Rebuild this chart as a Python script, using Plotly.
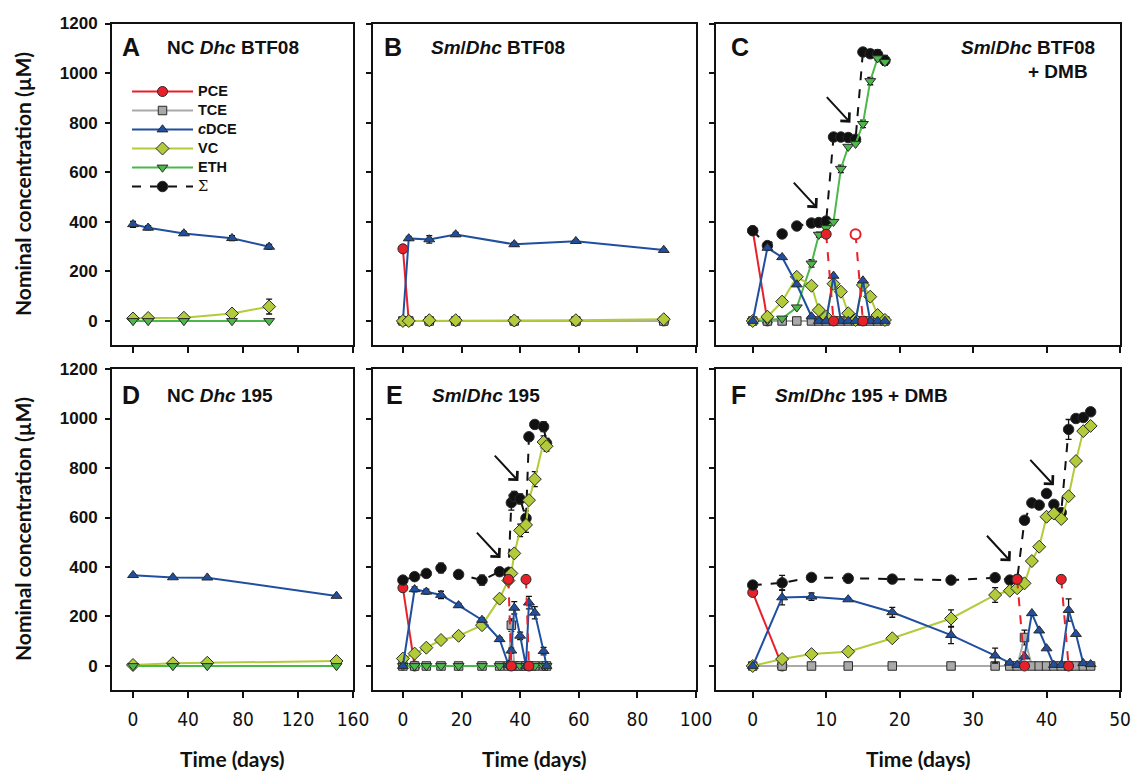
import plotly.graph_objects as go

W, H = 1132, 773

# ---------------- data ----------------
# Panel A : NC Dhc BTF08
A_days = [0, 11, 37, 72, 99]
A_cDCE = [390, 376, 353, 334, 299]
A_cDCE_err = [12, 8, 8, 10, 10]
A_VC = [10, 12, 13, 30, 58]
A_VC_err = [0, 0, 0, 0, 30]
A_ETH = [0, 0, 0, 0, 0]

# Panel B : Sm/Dhc BTF08
B_days = [0, 2, 9, 18, 38, 59, 89]
B_PCE = [291, 0, 0, 0, 0, 0, 0]
B_TCE = [0, 0, 0, 0, 0, 0, 0]
B_cDCE = [0, 333, 329, 349, 309, 322, 286]
B_cDCE_err = [0, 8, 15, 8, 8, 6, 6]
B_VC = [0, 0, 3, 3, 2, 3, 7]

# Panel C : Sm/Dhc BTF08 + DMB
C_days = [0, 2, 4, 6, 8, 9, 10, 11, 12, 13, 14, 15, 16, 17, 18]
C_sum = [364, 304, 351, 383, 395, 397, 403, 742, 742, 740, 733, 1085, 1078, 1075, 1051]
C_sum_err = [0, 0, 0, 0, 0, 0, 0, 5, 5, 5, 10, 15, 15, 20, 20]
C_TCE = [0, 0, 0, 0, 0, 0, 0, 0, 0, 0, 0, 0, 0, 0, 0]
C_cDCE = [0, 295, 257, 147, 18, 0, 0, 182, 0, 0, 0, 163, 0, 0, 0]
C_VC = [0, 17, 78, 178, 142, 44, 17, 150, 118, 31, 4, 145, 98, 24, 4]
C_ETH = [0, 3, 10, 55, 232, 348, 375, 400, 614, 703, 715, 795, 968, 1060, 1045]
C_ETH_err = [0, 0, 0, 0, 15, 10, 0, 0, 15, 0, 0, 15, 15, 10, 10]
C_PCE_days = [0, 2]
C_PCE = [365, 0]
C_pulse1_days = [10, 11]
C_pulse1 = [350, 0]
C_pulse2_days = [14, 15]
C_pulse2 = [350, 0]

# Panel D : NC Dhc 195
D_days = [0, 29, 54, 148]
D_cDCE = [367, 358, 357, 283]
D_VC = [4, 11, 13, 20]
D_ETH = [0, 0, 0, 0]

# Panel E : Sm/Dhc 195
E_days = [0, 4, 8, 13, 19, 27, 33, 36, 37, 38, 40, 42, 43, 45, 48, 49]
E_sum = [347, 361, 374, 396, 370, 347, 381, 378, 660, 685, 675, 597, 926, 976, 967, 900]
E_sum_err = [10, 10, 10, 20, 8, 20, 10, 10, 30, 20, 20, 30, 0, 15, 20, 20]
E_TCE = [0, 0, 0, 0, 0, 0, 0, 0, 165, 0, 0, 0, 0, 0, 0, 0]
E_TCE_err = [0, 0, 0, 0, 0, 0, 0, 0, 25, 0, 0, 0, 0, 0, 0, 0]
E_ETH = [0, 0, 0, 0, 0, 0, 0, 0, 0, 0, 0, 0, 0, 0, 0, 0]
E_VC = [30, 50, 74, 105, 122, 165, 272, 345, 374, 455, 548, 570, 670, 755, 905, 888]
E_VC_err = [0, 0, 0, 0, 0, 0, 0, 0, 0, 0, 25, 30, 0, 30, 25, 20]
E_cDCE = [0, 310, 300, 287, 245, 186, 108, 5, 62, 235, 122, 0, 256, 215, 60, 0]
E_cDCE_err = [0, 10, 10, 15, 8, 8, 8, 0, 10, 25, 15, 0, 25, 25, 15, 0]
E_PCE_days = [0, 4]
E_PCE = [316, 0]
E_pulse1_days = [36, 37]
E_pulse1 = [350, 0]
E_pulse2_days = [42, 43]
E_pulse2 = [350, 0]

# Panel F : Sm/Dhc 195 + DMB
F_days = [0, 4, 8, 13, 19, 27, 33, 35, 36, 37, 38, 39, 40, 41, 42, 43, 44, 45, 46]
F_sum = [327, 336, 358, 354, 351, 347, 357, 347, 350, 589, 659, 650, 697, 653, 620, 956, 1000, 1004, 1027]
F_sum_err = [15, 30, 8, 8, 8, 8, 10, 5, 5, 10, 10, 10, 10, 10, 10, 40, 10, 10, 10]
F_TCE = [0, 0, 0, 0, 0, 0, 0, 0, 0, 115, 0, 0, 0, 0, 0, 0, 0, 0, 0]
F_TCE_err = [0, 0, 0, 0, 0, 0, 0, 0, 0, 30, 0, 0, 0, 0, 0, 0, 0, 0, 0]
F_VC = [0, 28, 48, 58, 112, 192, 287, 304, 314, 334, 424, 482, 603, 616, 594, 686, 828, 949, 970]
F_VC_err = [0, 0, 0, 0, 0, 35, 30, 0, 0, 0, 0, 0, 0, 15, 0, 0, 0, 0, 0]
F_cDCE = [0, 277, 280, 269, 217, 125, 42, 13, 4, 38, 213, 143, 71, 4, 4, 226, 129, 11, 7]
F_cDCE_err = [0, 30, 15, 5, 20, 35, 30, 0, 0, 0, 0, 0, 0, 0, 0, 45, 0, 0, 0]
F_PCE_days = [0, 4]
F_PCE = [297, 0]
F_pulse1_days = [36, 37]
F_pulse1 = [350, 0]
F_pulse2_days = [42, 43]
F_pulse2 = [350, 0]

# arrows (head position in data units) for amendments
C_arrows = [(8.8, 455), (13.3, 800)]
E_arrows = [(33.3, 436), (39.4, 747)]
F_arrows = [(35.1, 423), (41.0, 730)]

# ---------------- styles ----------------
COL = {
    "PCE": "#e8202a", "TCE": "#a9a9a9", "cDCE": "#1f4f9e",
    "VC": "#b2cb3a", "ETH": "#4cb84a", "SUM": "#111111",
}
SYM = {"PCE": "circle", "TCE": "square", "cDCE": "triangle-up",
       "VC": "diamond", "ETH": "triangle-down", "SUM": "circle"}
MSIZE = {"PCE": 10, "TCE": 8.5, "cDCE": 9.5, "VC": 10, "ETH": 9.5, "SUM": 10.5}
LEG = "<span style='font-size:14.5px'>%s</span>"
NAMES = {"PCE": LEG % "PCE", "TCE": LEG % "TCE", "cDCE": LEG % "<i>c</i>DCE",
         "VC": LEG % "VC", "ETH": LEG % "ETH",
         "SUM": "<span style='font-size:14.5px;font-weight:normal;font-family:DejaVu Serif'>Σ</span>"}
RANK = {"PCE": 1, "TCE": 2, "cDCE": 3, "VC": 4, "ETH": 5, "SUM": 6}

fig = go.Figure()


def add(sp, key, x, y, err=None, dash="solid", legend=False, hollow=None):
    ax = "" if sp == 1 else str(sp)
    mcol = COL[key]
    marker = dict(symbol=SYM[key], size=MSIZE[key], color=mcol,
                  line=dict(color="#2a2a2a", width=1))
    if hollow is not None:
        marker["color"] = ["white" if h else mcol for h in hollow]
        marker["line"] = dict(color=[mcol if h else "#2a2a2a" for h in hollow],
                              width=[2 if h else 1 for h in hollow])
    tr = go.Scatter(
        x=x, y=y, mode="lines+markers", xaxis="x" + ax, yaxis="y" + ax,
        line=dict(color=mcol, width=2, dash=dash), marker=marker,
        name=NAMES[key], showlegend=legend, legendrank=RANK[key], cliponaxis=False,
    )
    if err is not None:
        tr.error_y = dict(type="data", array=err, visible=True, color="#111111",
                          thickness=1.3, width=3)
    fig.add_trace(tr)


# Panel A (legend carriers)
add(1, "VC", A_days, A_VC, A_VC_err, legend=True)
add(1, "ETH", A_days, A_ETH, legend=True)
add(1, "cDCE", A_days, A_cDCE, A_cDCE_err, legend=True)

# Panel B
add(2, "PCE", B_days, B_PCE, legend=True)
add(2, "TCE", B_days, B_TCE, legend=True)
add(2, "cDCE", B_days, B_cDCE, B_cDCE_err)
add(2, "VC", B_days, B_VC)

# Panel C
add(3, "PCE", C_PCE_days, C_PCE)
add(3, "SUM", C_days, C_sum, C_sum_err, dash="dash", legend=True)
add(3, "TCE", C_days, C_TCE)
add(3, "ETH", C_days, C_ETH, C_ETH_err)
add(3, "VC", C_days, C_VC)
add(3, "cDCE", C_days, C_cDCE)
add(3, "PCE", C_pulse1_days, C_pulse1, dash="dash")
add(3, "PCE", C_pulse2_days, C_pulse2, dash="dash", hollow=[True, False])

# Panel D
add(4, "VC", D_days, D_VC)
add(4, "ETH", D_days, D_ETH)
add(4, "cDCE", D_days, D_cDCE)

# Panel E
add(5, "PCE", E_PCE_days, E_PCE)
add(5, "SUM", E_days, E_sum, E_sum_err, dash="dash")
add(5, "TCE", E_days, E_TCE, E_TCE_err)
add(5, "ETH", E_days, E_ETH)
add(5, "VC", E_days, E_VC, E_VC_err)
add(5, "cDCE", E_days, E_cDCE, E_cDCE_err)
add(5, "PCE", E_pulse1_days, E_pulse1, dash="dash")
add(5, "PCE", E_pulse2_days, E_pulse2, dash="dash")

# Panel F
add(6, "PCE", F_PCE_days, F_PCE)
add(6, "SUM", F_days, F_sum, F_sum_err, dash="dash")
add(6, "TCE", F_days, F_TCE, F_TCE_err)
add(6, "VC", F_days, F_VC, F_VC_err)
add(6, "cDCE", F_days, F_cDCE, F_cDCE_err)
add(6, "PCE", F_pulse1_days, F_pulse1, dash="dash")
add(6, "PCE", F_pulse2_days, F_pulse2, dash="dash")

# ---------------- axes ----------------
def px_x(a, b):
    return [a / W, b / W]


def px_y(top, bottom):
    return [1 - bottom / H, 1 - top / H]


cols = [px_x(112, 353), px_x(373, 696), px_x(716, 1120)]
rows = [px_y(23.5, 345), px_y(369, 690)]
xranges = [[-15.3, 160], [-10.2, 100], [-5.0, 50]]
xdticks = [40, 20, 10]

tick_font = dict(family="Liberation Sans Narrow, DejaVu Sans Condensed, Lato, sans-serif", size=19, color="#111")
ytick_font = dict(family="Liberation Sans, Arial, sans-serif", size=17, color="#111", weight="bold")

for i in range(6):
    r, c = divmod(i, 3)
    sfx = "" if i == 0 else str(i + 1)
    fig.layout["xaxis" + sfx] = dict(
        domain=cols[c], range=xranges[c], dtick=xdticks[c], tick0=0,
        anchor="y" + sfx, showline=True, linecolor="#111", linewidth=2, mirror=True,
        ticks="outside", ticklen=6, tickwidth=1.5, tickcolor="#111",
        showgrid=False, zeroline=False, showticklabels=(r == 1), automargin=False,
        tickfont=tick_font, ticklabelstandoff=5, fixedrange=True,
    )
    fig.layout["yaxis" + sfx] = dict(
        domain=rows[r], range=[-97, 1200], tickvals=[0, 200, 400, 600, 800, 1000, 1200],
        anchor="x" + sfx, showline=True, linecolor="#111", linewidth=2, mirror=True,
        ticks="outside", ticklen=5, tickwidth=1.5, tickcolor="#111",
        showgrid=False, zeroline=False, showticklabels=(c == 0), automargin=False,
        tickfont=ytick_font, ticklabelstandoff=4, fixedrange=True,
    )

# ---------------- annotations ----------------
ann = []
letter_font = dict(family="Liberation Sans, Arial, sans-serif", size=25, color="#111", weight="bold")
title_font = dict(family="Liberation Sans, Arial, sans-serif", size=19, color="#111", weight="bold")
axis_title_font = dict(family="Lato, sans-serif", size=21, color="#111", weight="bold")


def pa(x, y, text, font, xanchor="center", yanchor="middle", angle=0):
    ann.append(dict(x=x / W, y=1 - y / H, xref="paper", yref="paper", text=text,
                    showarrow=False, font=font, xanchor=xanchor, yanchor=yanchor,
                    textangle=angle))


for L, x, y in [("A", 131, 47), ("B", 393, 47), ("C", 740, 47),
                ("D", 131, 395), ("E", 394, 395), ("F", 738, 395)]:
    pa(x, y, L, letter_font)

pa(165, 47, "NC <i>Dhc</i> BTF08", title_font, xanchor="left")
pa(429, 47, "<i>Sm</i>/<i>Dhc</i> BTF08", title_font, xanchor="left")
pa(1097, 47, "<i>Sm</i>/<i>Dhc</i> BTF08", title_font, xanchor="right")
pa(1090, 71, "+ DMB", title_font, xanchor="right")
pa(165, 395, "NC <i>Dhc</i> 195", title_font, xanchor="left")
pa(430, 395, "<i>Sm</i>/<i>Dhc</i> 195", title_font, xanchor="left")
pa(773, 395, "<i>Sm</i>/<i>Dhc</i> 195 + DMB", title_font, xanchor="left")

for yc in (184, 529):
    pa(22, yc, "Nominal concentration (µM)", axis_title_font, angle=-90)
for xc in (232, 534, 918):
    pa(xc, 758, "Time (days)", axis_title_font)

for sp, arrows in ((3, C_arrows), (5, E_arrows), (6, F_arrows)):
    for (hx, hy) in arrows:
        ann.append(dict(x=hx, y=hy, xref="x%d" % sp, yref="y%d" % sp, ax=-25, ay=-27,
                        axref="pixel", ayref="pixel", showarrow=True, arrowhead=4,
                        arrowsize=1.2, arrowwidth=2, arrowcolor="#111", text=""))

fig.update_layout(
    width=W, height=H, margin=dict(l=0, r=0, t=0, b=0, pad=0, autoexpand=False),
    paper_bgcolor="white", plot_bgcolor="white",
    annotations=ann,
    legend=dict(x=127 / W, y=1 - 77 / H, xanchor="left", yanchor="top",
                bgcolor="rgba(0,0,0,0)", itemwidth=61, tracegroupgap=0,
                font=dict(family="Liberation Sans, Arial, sans-serif", size=11, color="#111", weight="bold"),
                traceorder="normal"),
)

fig.write_html("out.html", config={"displayModeBar": False},
               post_script="document.body.style.margin='0px';")
